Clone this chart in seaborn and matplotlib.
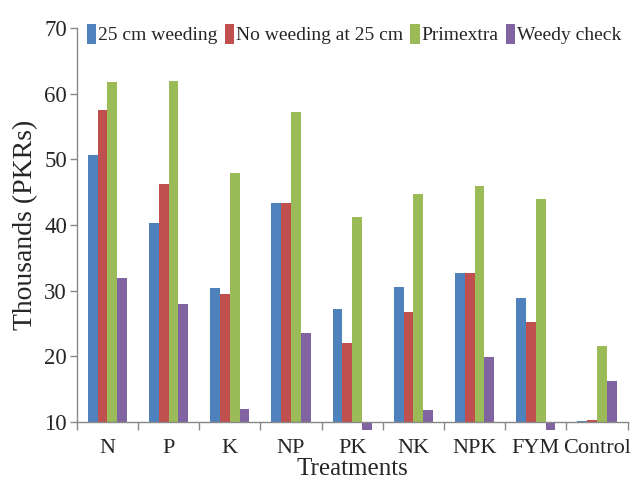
import pandas as pd
import matplotlib
matplotlib.use("Agg")
import matplotlib.pyplot as plt
import seaborn as sns

treatments = ["N", "P", "K", "NP", "PK", "NK", "NPK", "FYM", "Control"]
weeding_25cm = [50.6, 40.3, 30.4, 43.3, 27.3, 30.6, 32.7, 28.9, 10.15]
no_weeding_25cm = [57.5, 46.2, 29.5, 43.3, 22.0, 26.8, 32.7, 25.2, 10.3]
primextra = [61.8, 62.0, 48.0, 57.2, 41.2, 44.8, 45.9, 43.9, 21.6]
weedy_check = [31.9, 28.0, 12.0, 23.5, 8.8, 11.8, 19.9, 8.8, 16.2]

series_names = ["25 cm weeding", "No weeding at 25 cm", "Primextra", "Weedy check"]
colors = ["#4F81BD", "#C0504D", "#9BBB59", "#8064A2"]

df = pd.DataFrame({
    "Treatment": treatments * 4,
    "Series": [s for s in series_names for _ in treatments],
    "Value": weeding_25cm + no_weeding_25cm + primextra + weedy_check,
})

sns.set_style("white")
plt.rcParams["font.family"] = ["Liberation Serif", "DejaVu Serif"]

fig = plt.figure(figsize=(6.34, 4.83), dpi=100)
ax = fig.add_axes([0.121, 0.126, 0.869, 0.816])

sns.barplot(data=df, x="Treatment", y="Value", hue="Series", palette=colors,
            width=0.64, errorbar=None, ax=ax, linewidth=0, saturation=1)

# axis crosses at 10, so bars start there (Excel style)
base = 10
for p in ax.patches:
    h = p.get_height()
    p.set_y(base)
    p.set_height(h - base)
    p.set_clip_on(False)

ax.set_ylim(10, 70)
ax.set_xlim(-0.5, len(treatments) - 0.5)
ax.set_yticks(range(10, 71, 10))
ax.tick_params(axis="y", labelsize=16.5, length=5, color="#888888", width=1, pad=2, left=True)
ax.tick_params(axis="x", which="major", labelsize=16, length=0, pad=12)
ax.set_xticks([i + 0.5 for i in range(-1, len(treatments))], minor=True)
ax.tick_params(axis="x", which="minor", length=6, color="#888888", width=1, bottom=True)

for s in ["top", "right"]:
    ax.spines[s].set_visible(False)
for s in ["left", "bottom"]:
    ax.spines[s].set_color("#888888")
    ax.spines[s].set_linewidth(1)

ax.set_ylabel("Thousands (PKRs)", fontsize=20, labelpad=4)
ax.set_xlabel("Treatments", fontsize=18, labelpad=0)

ax.legend(loc="upper left", bbox_to_anchor=(0.004, 1.03), ncol=4, frameon=False,
          fontsize=14, handlelength=0.5, handleheight=1.2, handletextpad=0.1,
          columnspacing=0.35, borderaxespad=0)

fig.savefig("out.png", dpi=100)
